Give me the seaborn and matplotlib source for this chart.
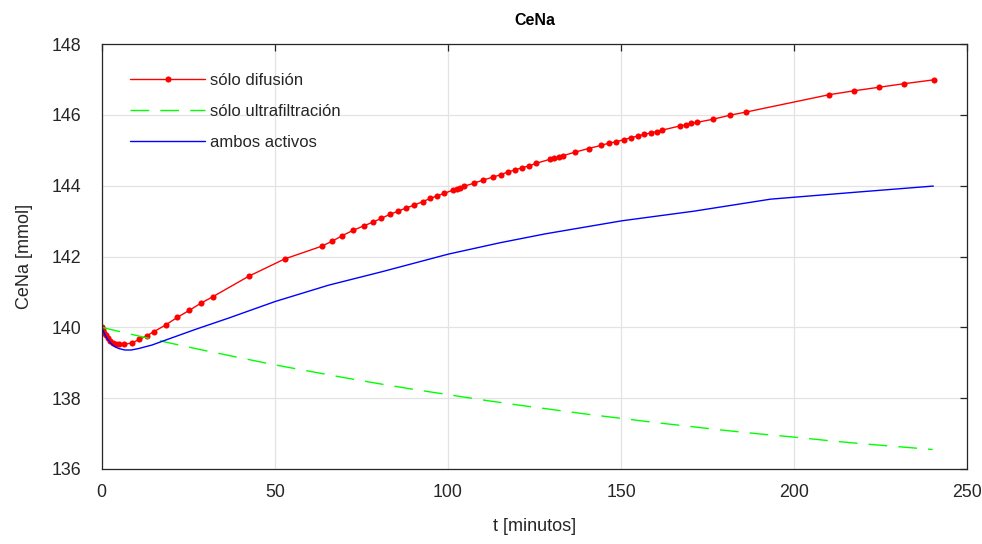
import matplotlib
matplotlib.use("Agg")
import matplotlib.pyplot as plt
import seaborn as sns
import pandas as pd

# ---- data ----
t_dif = [0, 0.3, 0.7, 1.2, 1.8, 2.5, 3.3, 4.2, 5.1, 6.5, 8.7, 10.9, 13.0, 15.1, 18.5, 21.8,
         25.3, 28.6, 32.0, 42.4, 52.8, 63.5, 66.5, 69.5, 72.6, 75.8, 78.3, 80.8, 83.2, 85.6,
         87.9, 90.2, 92.7, 94.9, 96.8, 98.8, 101.6, 102.6, 103.6, 104.5, 107.5, 110.2, 112.9,
         115.2, 117.4, 119.5, 121.5, 123.4, 125.4, 129.6, 130.7, 132.2, 133.3, 136.8, 140.6,
         144.3, 146.4, 148.6, 150.8, 152.9, 154.8, 156.7, 158.6, 160.3, 161.9, 167.1, 168.8,
         170.3, 172.0, 176.7, 181.4, 186.1, 210.1, 217.3, 224.5, 231.7, 240.3]
v_dif = [140.00, 139.93, 139.85, 139.77, 139.69, 139.62, 139.57, 139.53, 139.52, 139.52,
         139.56, 139.66, 139.76, 139.88, 140.07, 140.28, 140.48, 140.68, 140.86, 141.44,
         141.93, 142.29, 142.43, 142.59, 142.74, 142.87, 142.97, 143.08, 143.19, 143.28,
         143.37, 143.45, 143.55, 143.64, 143.71, 143.78, 143.88, 143.91, 143.94, 143.98,
         144.07, 144.16, 144.24, 144.31, 144.39, 144.45, 144.51, 144.56, 144.63, 144.75,
         144.77, 144.82, 144.85, 144.95, 145.05, 145.14, 145.20, 145.24, 145.30, 145.36,
         145.40, 145.45, 145.49, 145.53, 145.57, 145.69, 145.72, 145.76, 145.79, 145.88,
         145.99, 146.08, 146.57, 146.68, 146.78, 146.88, 146.99]

t_uf = [0, 10, 20, 30, 40, 50, 60, 70, 80, 90, 100, 110, 120, 130, 140, 150, 160, 170,
        180, 190, 200, 210, 220, 230, 240]
v_uf = [140.00, 139.77, 139.55, 139.34, 139.14, 138.94, 138.76, 138.58, 138.41, 138.25,
        138.10, 137.95, 137.81, 137.68, 137.55, 137.43, 137.31, 137.20, 137.09, 136.99,
        136.90, 136.80, 136.71, 136.63, 136.55]

t_amb = [0, 0.5, 1.0, 1.9, 2.8, 3.8, 5.0, 6.7, 8.5, 10.6, 14.5, 19.3, 27.0, 36.6, 50.1,
         65.5, 80.9, 100.2, 115.1, 128.1, 150.3, 171.0, 193.2, 217.0, 240.2]
v_amb = [140.00, 139.88, 139.78, 139.64, 139.53, 139.45, 139.40, 139.36, 139.36, 139.40,
         139.50, 139.67, 139.94, 140.26, 140.73, 141.19, 141.57, 142.07, 142.39, 142.64,
         143.01, 143.28, 143.62, 143.81, 143.99]

labels = ["sólo difusión", "sólo ultrafiltración", "ambos activos"]
x_ticks = [0, 50, 100, 150, 200, 250]
y_ticks = [136, 138, 140, 142, 144, 146, 148]

# ---- style ----
sns.set_style("white")
plt.rcParams["font.family"] = ["Liberation Sans", "DejaVu Sans"]

fig = plt.figure(figsize=(9.82, 5.44), dpi=100)
ax = fig.add_axes([0.1036, 0.1379, 0.8814, 0.7811])

df_d = pd.DataFrame({"t": t_dif, "v": v_dif})
df_u = pd.DataFrame({"t": t_uf, "v": v_uf})
df_a = pd.DataFrame({"t": t_amb, "v": v_amb})

sns.lineplot(data=df_d, x="t", y="v", ax=ax, color="#ff0000", lw=1.0, marker="o",
             markersize=4.4, markeredgewidth=0, sort=False, estimator=None, label=labels[0])
sns.lineplot(data=df_u, x="t", y="v", ax=ax, color="#00ff00", lw=1.0, sort=False,
             estimator=None, label=labels[1])
ax.lines[-1].set_linestyle((0, (13.5, 8)))
sns.lineplot(data=df_a, x="t", y="v", ax=ax, color="#0000ff", lw=1.0, sort=False,
             estimator=None, label=labels[2])

ax.set_xlim(0, 250)
ax.set_ylim(136, 148)
ax.set_xticks(x_ticks)
ax.set_yticks(y_ticks)
ax.grid(True, color="#e3e3e3", lw=0.9)
ax.set_axisbelow(True)
for s in ax.spines.values():
    s.set_visible(True)
    s.set_color("#262626")
    s.set_linewidth(0.9)
ax.tick_params(direction="in", length=5, width=0.9, color="#262626", labelsize=12.8,
               labelcolor="#262626", top=True, right=True)
ax.tick_params(axis="x", pad=11)
ax.tick_params(axis="y", pad=15)

ax.set_title("CeNa", fontsize=11.5, fontweight="bold", color="#000000", pad=14)
ax.set_xlabel("t [minutos]", fontsize=13, color="#262626", labelpad=12)
ax.set_ylabel("CeNa [mmol]", fontsize=13, color="#262626", labelpad=13)

leg = ax.legend(loc="upper left", bbox_to_anchor=(0.033, 0.933), frameon=False,
                fontsize=12, handlelength=4.5, handletextpad=0.3, labelspacing=0.97,
                borderpad=0, borderaxespad=0)
leg.get_lines()[1].set_linestyle((0, (13.5, 8)))

fig.savefig("out.png", dpi=100)
